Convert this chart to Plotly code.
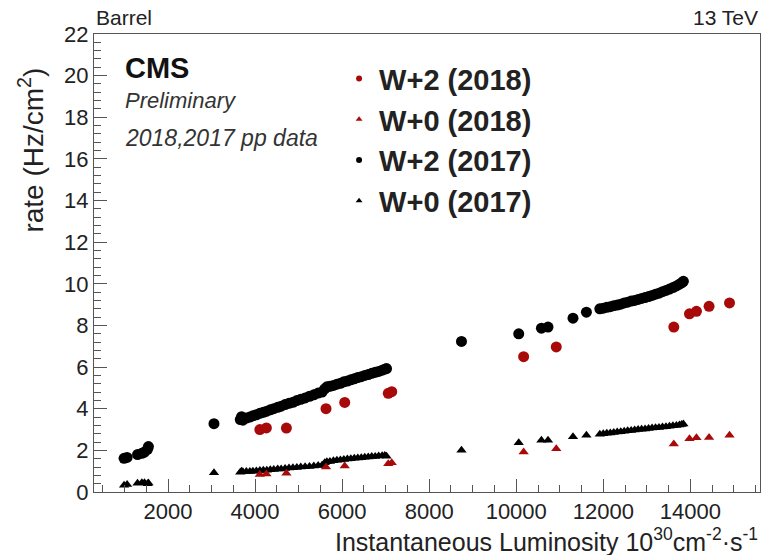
import plotly.graph_objects as go

# ---- W+2 / W+0 rates vs. instantaneous luminosity (barrel) ----

# 2018 fills
lumi_2018 = [4110, 4260, 4720, 5630, 6060, 7060, 7140, 10170, 10920,
             13620, 13980, 14140, 14430, 14900]
w2_2018 = [3.00, 3.08, 3.07, 4.00, 4.30, 4.74, 4.82, 6.50, 6.97,
           7.92, 8.56, 8.68, 8.92, 9.08]
w0_2018 = [0.84, 0.86, 0.90, 1.20, 1.25, 1.36, 1.40, 1.92, 2.08,
           2.30, 2.56, 2.60, 2.62, 2.72]

# 2017 fills
lumi_2017 = [990, 1060, 1300, 1400, 1460, 1530, 1550,
             3056,
             3660, 3690, 3720, 3800, 3880, 3950, 4030, 4110, 4190, 4270,
             4350, 4430, 4520, 4600, 4690, 4780, 4870, 4960, 5050, 5150,
             5250, 5350, 5450, 5540,
             5600, 5650, 5720, 5800, 5880, 5960, 6040, 6120, 6200, 6280,
             6360, 6440, 6520, 6600, 6680, 6760, 6840, 6920, 6980, 7020,
             8742, 10057, 10578, 10730, 11304, 11612,
             11920, 12000, 12080, 12160, 12240, 12320, 12400, 12480, 12560,
             12640, 12720, 12800, 12880, 12960, 13040, 13120, 13200, 13280,
             13360, 13440, 13520, 13600, 13680, 13750, 13800, 13840]
w2_2017 = [1.62, 1.66, 1.80, 1.86, 1.92, 2.05, 2.18,
           3.28,
           3.48, 3.62, 3.45, 3.55, 3.60, 3.66, 3.71, 3.78, 3.83, 3.88,
           3.95, 4.00, 4.07, 4.12, 4.20, 4.26, 4.31, 4.39, 4.45, 4.52,
           4.60, 4.67, 4.75, 4.80,
           4.95, 5.05, 5.08, 5.12, 5.18, 5.22, 5.29, 5.33, 5.39, 5.44,
           5.50, 5.54, 5.60, 5.64, 5.70, 5.75, 5.79, 5.85, 5.90, 5.93,
           7.23, 7.60, 7.87, 7.92, 8.35, 8.64,
           8.80, 8.83, 8.87, 8.90, 8.95, 8.98, 9.02, 9.08, 9.12,
           9.17, 9.20, 9.25, 9.30, 9.34, 9.39, 9.44, 9.50, 9.55,
           9.62, 9.68, 9.75, 9.82, 9.90, 9.98, 10.05, 10.12]
w0_2017 = [0.33, 0.36, 0.42, 0.45, 0.44, 0.40, 0.43,
           0.92,
           0.95, 1.00, 0.97, 0.98, 0.99, 1.00, 1.01, 1.03, 1.04, 1.05,
           1.07, 1.08, 1.10, 1.11, 1.13, 1.15, 1.16, 1.18, 1.20, 1.21,
           1.23, 1.25, 1.27, 1.29,
           1.40, 1.45, 1.47, 1.50, 1.52, 1.54, 1.56, 1.58, 1.60, 1.62,
           1.63, 1.65, 1.67, 1.68, 1.70, 1.71, 1.73, 1.74, 1.75, 1.72,
           2.00, 2.37, 2.48, 2.48, 2.65, 2.72,
           2.78, 2.80, 2.82, 2.84, 2.86, 2.88, 2.90, 2.92, 2.94,
           2.96, 2.98, 3.00, 3.01, 3.03, 3.05, 3.07, 3.09, 3.10,
           3.12, 3.14, 3.16, 3.18, 3.20, 3.22, 3.24, 3.27]

series_names = ["W+2 (2018)", "W+0 (2018)", "W+2 (2017)", "W+0 (2017)"]

RED = "#a80a0a"
BLACK = "#000000"
FONT = "Liberation Sans, Arial, Helvetica, sans-serif"
TXT = "#222222"

styles = [
    (lumi_2018, w2_2018, "circle", RED, 11),
    (lumi_2018, w0_2018, "triangle-up", RED, 9),
    (lumi_2017, w2_2017, "circle", BLACK, 11),
    (lumi_2017, w0_2017, "triangle-up", BLACK, 9),
]

fig = go.Figure()

# draw 2017 under 2018 so the red points sit on top
for idx in [2, 3, 0, 1]:
    x, y, sym, col, sz = styles[idx]
    fig.add_trace(go.Scatter(
        x=x, y=y, mode="markers", showlegend=False,
        marker=dict(symbol=sym, color=col, size=sz, line=dict(width=0)),
        name=series_names[idx]))

# small legend markers
for idx, name in enumerate(series_names):
    _, _, sym, col, _ = styles[idx]
    fig.add_trace(go.Scatter(
        x=[None], y=[None], mode="markers", name=name,
        legendgroup=name,
        marker=dict(symbol=sym, color=col, size=6)))

fig.update_layout(
    width=762, height=555,
    margin=dict(l=94, r=2, t=34, b=63),
    paper_bgcolor="white", plot_bgcolor="white",
    font=dict(family=FONT, color=TXT),
    legend=dict(
        x=0.368, y=0.958, xanchor="left", yanchor="top",
        bgcolor="rgba(0,0,0,0)", borderwidth=0,
        font=dict(size=29, family=FONT, color=TXT, weight="bold"),
        itemwidth=30, tracegroupgap=13, traceorder="normal",
    ),
    xaxis=dict(
        range=[300, 15600], showgrid=False, zeroline=False,
        showline=True, mirror=True, linecolor="#555", linewidth=1,
        ticks="inside", ticklen=13, tickcolor="#555", tick0=0, dtick=2000,
        tickformat="d",
        tickfont=dict(size=22, color=TXT),
        minor=dict(ticks="inside", ticklen=7, dtick=500, tickcolor="#555"),
    ),
    yaxis=dict(
        range=[0, 22], showgrid=False, zeroline=False,
        showline=True, mirror=True, linecolor="#555", linewidth=1,
        ticks="inside", ticklen=13, tickcolor="#555", tick0=0, dtick=2,
        tickfont=dict(size=22, color=TXT),
        minor=dict(ticks="inside", ticklen=7, dtick=0.4, tickcolor="#555"),
    ),
)

annotations = [
    dict(text="Barrel", x=0, y=1.0, xref="paper", yref="paper",
         xanchor="left", yanchor="bottom", yshift=3,
         font=dict(size=21, color=TXT)),
    dict(text="13 TeV", x=1.0, y=1.0, xref="paper", yref="paper",
         xanchor="right", yanchor="bottom", yshift=3,
         font=dict(size=21, color=TXT)),
    dict(text="<b>CMS</b>", x=0.043, y=0.925, xref="paper", yref="paper",
         xanchor="left", yanchor="middle",
         font=dict(size=29, color="#111")),
    dict(text="<i>Preliminary</i>", x=0.043, y=0.855, xref="paper", yref="paper",
         xanchor="left", yanchor="middle",
         font=dict(size=22, color="#333")),
    dict(text="<i>2018,2017 pp data</i>", x=0.043, y=0.772, xref="paper",
         yref="paper", xanchor="left", yanchor="middle",
         font=dict(size=23, color="#333")),
    dict(text="rate (Hz/cm<sup>2</sup>)", textangle=-90,
         x=-0.095, y=0.747, xref="paper", yref="paper",
         xanchor="center", yanchor="middle",
         font=dict(size=28, color=TXT)),
    dict(text="Instantaneous Luminosity 10<sup>30</sup>cm<sup>-2</sup>·s<sup>-1</sup>",
         x=1.0, y=-0.105, xref="paper", yref="paper",
         xanchor="right", yanchor="middle",
         font=dict(size=25, color=TXT)),
]
for a in annotations:
    a["showarrow"] = False
fig.update_layout(annotations=annotations)

fig.write_html("out.html")
